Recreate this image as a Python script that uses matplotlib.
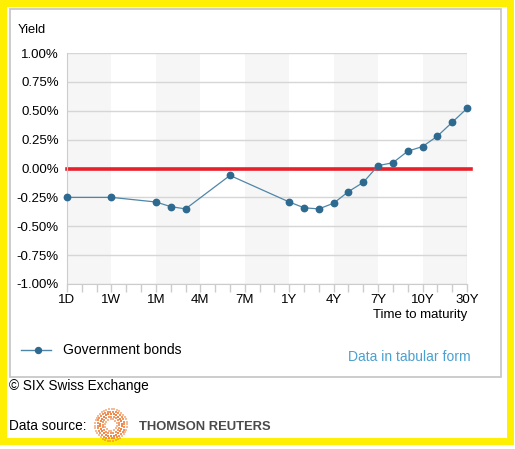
import numpy as np
import matplotlib.pyplot as plt
from matplotlib.patches import Rectangle

plt.rcParams['font.family'] = ['Liberation Sans', 'DejaVu Sans']

# axis slots (3 per major label)
slots = ['1D', '2D', '3D', '1W', '2W', '3W', '1M', '2M', '3M', '4M', '5M', '6M',
         '7M', '8M', '9M', '1Y', '2Y', '3Y', '4Y', '5Y', '6Y', '7Y', '8Y', '9Y',
         '10Y', '15Y', '20Y', '30Y']
major_labels = ['1D', '1W', '1M', '4M', '7M', '1Y', '4Y', '7Y', '10Y', '30Y']

tenors = ['1D', '1W', '1M', '2M', '3M', '6M', '1Y', '2Y', '3Y', '4Y', '5Y', '6Y',
          '7Y', '8Y', '9Y', '10Y', '15Y', '20Y', '30Y']
yields = [-0.25, -0.25, -0.29, -0.33, -0.35, -0.06, -0.29, -0.34, -0.35, -0.30,
          -0.20, -0.12, 0.025, 0.05, 0.15, 0.19, 0.28, 0.40, 0.52]

W, H = 515, 449
fig = plt.figure(figsize=(W / 100, H / 100), dpi=100)


def fx(px):
    return px / W


def fy(py):
    return 1 - py / H


# yellow frame and inner grey box
fig.patches.append(Rectangle((fx(3), fy(441)), fx(507), 438 / H, transform=fig.transFigure,
                             fill=False, edgecolor='#ffef00', linewidth=5))
fig.patches.append(Rectangle((fx(10), fy(377)), fx(491), 368 / H, transform=fig.transFigure,
                             fill=False, edgecolor='#c4c4c4', linewidth=1.2))

ax = fig.add_axes([fx(67), fy(284), fx(400), 231 / H])
x = [slots.index(t) for t in tenors]
n = len(slots) - 1

# alternating bands
for i in range(0, n, 6):
    ax.axvspan(i, i + 3, color='#f6f6f6', zorder=0, lw=0)

for v in np.arange(-1.0, 1.01, 0.25):
    ax.axhline(v, color='#d6d6d6', lw=1, zorder=1)
ax.plot([0, n + 0.25], [0, 0], color='#e8202a', lw=2.6, zorder=2, clip_on=False)
ax.plot(x, yields, color='#4f86a8', lw=0.9, marker='o', markersize=4.6,
        markerfacecolor='#2e6a90', markeredgecolor='#2e6a90', zorder=3, clip_on=False)

ax.set_xlim(0, n)
ax.set_ylim(-1.0, 1.0)
ax.set_yticks(np.arange(-1.0, 1.01, 0.25))
ax.set_yticklabels(['{:.2f}%'.format(v) for v in np.arange(-1.0, 1.01, 0.25)])
ax.set_xticks([slots.index(m) for m in major_labels])
ax.set_xticklabels(major_labels)
ax.set_xticks(range(n + 1), minor=True)
ax.tick_params(axis='y', length=0, pad=6, labelsize=9.5, colors='black')
ax.tick_params(axis='x', which='both', length=6, width=1, color='#cccccc', pad=1,
               labelsize=9.5)
for s in ['top', 'right']:
    ax.spines[s].set_visible(False)
ax.spines['left'].set_color('#cccccc')
ax.spines['bottom'].set_color('#cccccc')
ax.axvline(n, color='#dddddd', lw=1, zorder=1)

fig.text(fx(18), fy(30), 'Yield', fontsize=9.3, va='center')
fig.text(fx(467), fy(315), 'Time to maturity', fontsize=9.5, va='center', ha='right')

# legend
fig.lines.append(plt.Line2D([fx(21), fx(51)], [fy(350), fy(350)], transform=fig.transFigure,
                            color='#4f86a8', lw=1))
fig.lines.append(plt.Line2D([fx(38)], [fy(350)], transform=fig.transFigure, marker='o',
                            markersize=4.3, color='#2e6a90'))
fig.text(fx(63), fy(350), 'Government bonds', fontsize=10, va='center')
fig.text(fx(471), fy(357), 'Data in tabular form', fontsize=10, va='center', ha='right',
         color='#4aa0d0')

fig.text(fx(9), fy(386), '\u00a9 SIX Swiss Exchange', fontsize=9.8, va='center')
fig.text(fx(9), fy(426), 'Data source:', fontsize=9.8, va='center')

# Thomson Reuters logo: dotted orange ring
lx, ly = 111, 425
for r, ms, al in [(6, 1.5, 0.55), (8.5, 1.8, 0.75), (11, 2.0, 0.9), (13.5, 2.0, 0.8), (16, 1.7, 0.5)]:
    cnt = int(2 * np.pi * r / 2.6)
    ang = np.linspace(0, 2 * np.pi, cnt, endpoint=False) + r
    fig.lines.append(plt.Line2D(fx(lx + r * np.cos(ang)), fy(ly + r * np.sin(ang)),
                                transform=fig.transFigure, ls='none', marker='s',
                                markersize=ms, markeredgewidth=0, color='#ef7a33', alpha=al))
fig.text(fx(139), fy(427), 'THOMSON REUTERS', fontsize=9.4, fontweight='bold',
         va='center', color='#4a4a4a')

fig.savefig('out.png', dpi=100)
